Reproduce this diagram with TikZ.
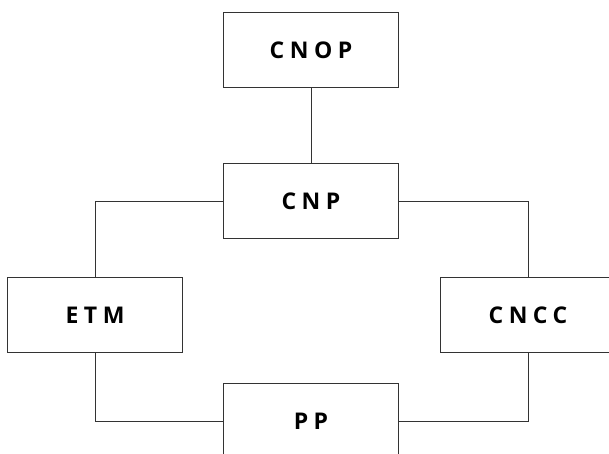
\documentclass[tikz,border=0pt]{standalone}
\usepackage{fontspec}
\setmainfont{Open Sans}
\newfontfamily\boxfont[LetterSpace=24]{Open Sans}
\begin{document}
\begin{tikzpicture}[x=1pt,y=-1pt,
  unit/.style={draw=black!80, line width=1pt, minimum width=175pt, minimum height=75pt, inner sep=0pt,
    font=\boxfont\bfseries\fontsize{23}{27}\selectfont, text=black},
  link/.style={draw=black!80, line width=1pt}]
\useasboundingbox (0,0) rectangle (609,454);
\clip (0,0) rectangle (609,454);
\node[unit] (cnop) at (311,50) {CNOP};
\node[unit] (cnp) at (311,201) {CNP};
\node[unit] (etm) at (95,315) {ETM};
\node[unit] (cncc) at (528,315) {CNCC};
\node[unit] (pp) at (311,421) {PP};
\draw[link] (cnop) -- (cnp);
\draw[link] (cnp.west) -| (etm.north);
\draw[link] (cnp.east) -| (cncc.north);
\draw[link] (etm.south) |- (pp.west);
\draw[link] (cncc.south) |- (pp.east);
\end{tikzpicture}
\end{document}
